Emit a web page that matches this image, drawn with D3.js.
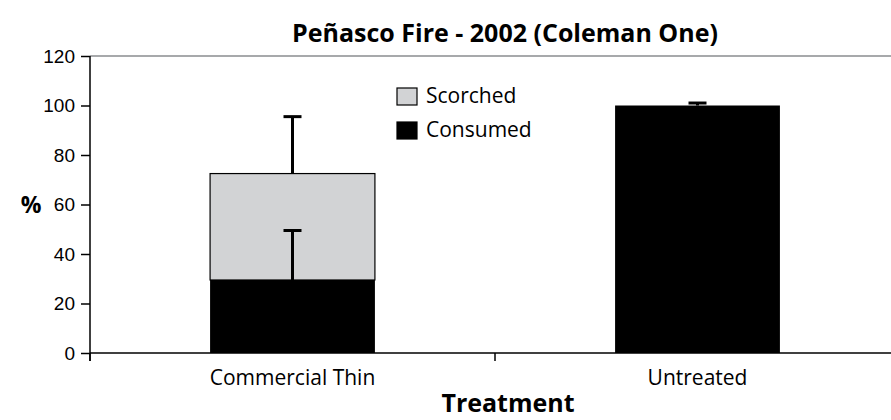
<!DOCTYPE html>
<html lang="en">
<head>
<meta charset="UTF-8">
<title>Peñasco Fire - 2002</title>
<script src="https://d3js.org/d3.v7.min.js"></script>
<style>
  body { margin: 0; background: #fff; }
  svg { font-family: "Open Sans", "Noto Sans", sans-serif; }
</style>
</head>
<body>
<svg width="891" height="420"></svg>
<script>
// data
var treatments = ["Commercial Thin", "Untreated"];
var consumed = [29.5, 100];
var scorched = [43, 0];
var consumedErr = [20, 1];
var totalErr = [23, 0];
var yTicks = [0, 20, 40, 60, 80, 100, 120];
var seriesNames = ["Scorched", "Consumed"];
var seriesColors = ["#d2d3d5", "#000000"];

var svg = d3.select("svg");
var plotL = 90, plotR = 900, plotT = 56, plotB = 353;

var x = d3.scaleBand().domain(treatments).range([plotL, plotR]).paddingInner(0.593).paddingOuter(0.2965);
var y = d3.scaleLinear().domain([0, 120]).range([plotB, plotT]);

// top border of plot area
svg.append("line")
  .attr("x1", plotL).attr("x2", plotR)
  .attr("y1", plotT).attr("y2", plotT)
  .attr("stroke", "#8a8c8f").attr("stroke-width", 1.5);

// stacked bars
treatments.forEach(function (t, i) {
  svg.append("rect")
    .attr("x", x(t)).attr("width", x.bandwidth())
    .attr("y", y(consumed[i])).attr("height", y(0) - y(consumed[i]))
    .attr("fill", "#000");
  if (scorched[i] > 0) {
    svg.append("rect")
      .attr("x", x(t)).attr("width", x.bandwidth())
      .attr("y", y(consumed[i] + scorched[i]))
      .attr("height", y(consumed[i]) - y(consumed[i] + scorched[i]))
      .attr("fill", seriesColors[0]).attr("stroke", "#000").attr("stroke-width", 1.2);
  }
});

// error bars
function errBar(cx, v, e) {
  if (e <= 0) return;
  svg.append("line").attr("x1", cx).attr("x2", cx)
    .attr("y1", y(v)).attr("y2", y(v + e))
    .attr("stroke", "#000").attr("stroke-width", 3);
  svg.append("line").attr("x1", cx - 9).attr("x2", cx + 9)
    .attr("y1", y(v + e)).attr("y2", y(v + e))
    .attr("stroke", "#000").attr("stroke-width", 3);
}
treatments.forEach(function (t, i) {
  var cx = x(t) + x.bandwidth() / 2;
  errBar(cx, consumed[i], consumedErr[i]);
  errBar(cx, consumed[i] + scorched[i], totalErr[i]);
});

// y axis
var yAxis = svg.append("g").attr("transform", "translate(" + plotL + ",0)")
  .call(d3.axisLeft(y).tickValues(yTicks).tickSize(9).tickPadding(6));
yAxis.select(".domain").attr("d", "M0," + plotT + "V" + (plotB + 8));
yAxis.selectAll("line").attr("stroke-width", 1.5);
yAxis.select(".domain").attr("stroke-width", 1.5);
yAxis.selectAll("text").attr("font-size", 19).attr("fill", "#000");

// x axis
var xg = svg.append("g");
xg.append("line").attr("x1", plotL).attr("x2", plotR).attr("y1", plotB).attr("y2", plotB)
  .attr("stroke", "#000").attr("stroke-width", 1.5);
var bounds = [plotL, (x(treatments[0]) + x.bandwidth() + x(treatments[1])) / 2, plotR];
bounds.forEach(function (b) {
  xg.append("line").attr("x1", b).attr("x2", b).attr("y1", plotB).attr("y2", plotB + 8)
    .attr("stroke", "#000").attr("stroke-width", 1.5);
});
treatments.forEach(function (t) {
  xg.append("text").attr("x", x(t) + x.bandwidth() / 2).attr("y", 385)
    .attr("text-anchor", "middle").attr("font-size", 21).text(t);
});

// titles
svg.append("text").attr("x", 505).attr("y", 42).attr("text-anchor", "middle")
  .attr("font-size", 25).attr("font-weight", "bold").text("Peñasco Fire - 2002 (Coleman One)");
svg.append("text").attr("x", 508).attr("y", 412).attr("text-anchor", "middle")
  .attr("font-size", 25).attr("font-weight", "bold").text("Treatment");
svg.append("text").attr("x", 31).attr("y", 213).attr("text-anchor", "middle")
  .attr("font-size", 23).attr("font-weight", "bold").text("%");

// legend
seriesNames.forEach(function (s, i) {
  var ly = 88 + i * 34;
  svg.append("rect").attr("x", 397).attr("y", ly).attr("width", 20).attr("height", 17)
    .attr("fill", seriesColors[i]).attr("stroke", "#000").attr("stroke-width", 1.2);
  svg.append("text").attr("x", 426).attr("y", ly + 15).attr("font-size", 21).text(s);
});
</script>
</body>
</html>
